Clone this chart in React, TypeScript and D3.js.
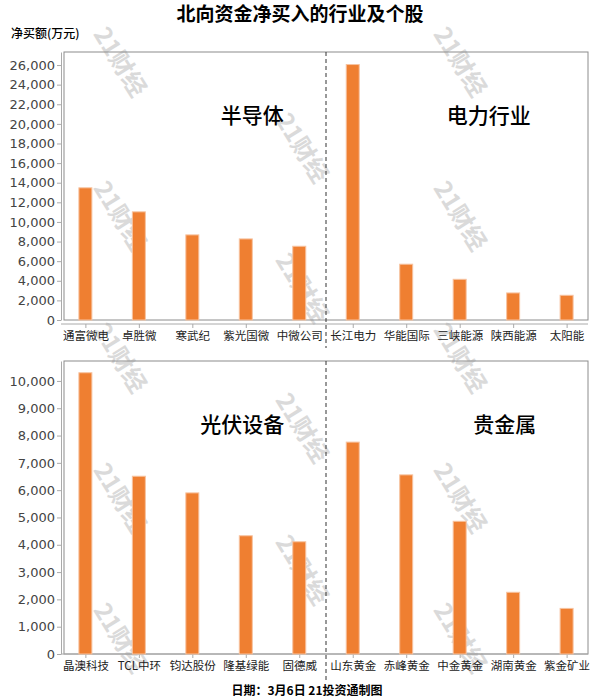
import * as d3 from "d3";
import React, { useRef, useEffect } from "react";

// top panel: semiconductors + power
const topNames = ["通富微电", "卓胜微", "寒武纪", "紫光国微", "中微公司", "长江电力", "华能国际", "三峡能源", "陕西能源", "太阳能"];
const topValues = [13480, 11030, 8680, 8270, 7520, 26050, 5690, 4150, 2760, 2520];
const topTicks = [0, 2000, 4000, 6000, 8000, 10000, 12000, 14000, 16000, 18000, 20000, 22000, 24000, 26000];
const topSectors = ["半导体", "电力行业"];

// bottom panel: PV equipment + precious metals
const bottomNames = ["晶澳科技", "TCL中环", "钧达股份", "隆基绿能", "固德威", "山东黄金", "赤峰黄金", "中金黄金", "湖南黄金", "紫金矿业"];
const bottomValues = [10300, 6510, 5900, 4330, 4110, 7760, 6560, 4860, 2260, 1670];
const bottomTicks = [0, 1000, 2000, 3000, 4000, 5000, 6000, 7000, 8000, 9000, 10000];
const bottomSectors = ["光伏设备", "贵金属"];

const W = 600;
const H = 700;
const cjk = "'Noto Sans CJK SC', 'Noto Sans', sans-serif";
const barColor = "#ef7f31";

export default function App() {
  const ref = useRef(null);

  useEffect(() => {
    document.body.style.margin = "0";
    const svg = d3.select(ref.current);
    svg.selectAll("*").remove();

    svg.append("rect").attr("width", W).attr("height", H).attr("fill", "#fff");

    // watermarks behind everything
    const marks: [number, number][] = [];
    [120, 460].forEach((x) => [62, 216, 358, 498, 638].forEach((y) => marks.push([x, y])));
    [148, 288, 428, 570].forEach((y) => marks.push([302, y]));
    svg
      .append("g")
      .selectAll("text")
      .data(marks)
      .join("text")
      .attr("transform", (d) => `translate(${d[0]},${d[1]}) rotate(58)`)
      .attr("text-anchor", "middle")
      .attr("dy", "0.35em")
      .style("font-family", cjk)
      .style("font-weight", "bold")
      .style("font-size", "24px")
      .style("fill", "#dadada")
      .text("21财经");

    function panel(names: string[], values: number[], ticks: number[], sectors: string[], shifts: number[], top: number, bottom: number, maxY: number, axisGap: number, sectorY: number) {
      const left = 64;
      const right = 588;
      const g = svg.append("g");

      const x = d3.scalePoint().domain(names).range([left, right]).padding(0.4);
      const y = d3.scaleLinear().domain([0, maxY]).range([bottom, top]);

      // frame
      g.append("rect")
        .attr("x", left)
        .attr("y", top)
        .attr("width", right - left)
        .attr("height", bottom - top)
        .attr("fill", "none")
        .attr("stroke", "#8c8c8c")
        .attr("stroke-width", 1);

      // y axis
      const yAxis = g
        .append("g")
        .attr("transform", `translate(${left - 3},0)`)
        .call(d3.axisLeft(y).tickValues(ticks).tickSize(4).tickSizeOuter(0).tickPadding(2).tickFormat(d3.format(",")));
      yAxis.select(".domain").attr("stroke", "#aaa");
      yAxis.selectAll(".tick line").attr("stroke", "#aaa");
      yAxis
        .selectAll("text")
        .style("font-family", "'DejaVu Sans', sans-serif")
        .style("font-size", "13px")
        .style("fill", "#444");

      // x axis
      const xAxis = g
        .append("g")
        .attr("transform", `translate(0,${bottom + axisGap})`)
        .call(d3.axisBottom(x).tickSize(4).tickSizeOuter(0).tickPadding(4));
      xAxis.select(".domain").attr("stroke", "#aaa").attr("d", `M${left - 3},0H${right}`);
      xAxis.selectAll(".tick line").attr("stroke", "#aaa");
      xAxis
        .selectAll("text")
        .style("font-family", cjk)
        .style("font-size", "11.5px")
        .style("fill", "#222");

      // dashed separator
      const mid = ((x(names[4]) as number) + (x(names[5]) as number)) / 2;
      g.append("line")
        .attr("x1", mid)
        .attr("x2", mid)
        .attr("y1", top)
        .attr("y2", bottom + 28)
        .attr("stroke", "#333")
        .attr("stroke-width", 1)
        .attr("stroke-dasharray", "4,3");

      // bars
      const bw = 13;
      g.append("g")
        .selectAll("rect")
        .data(values)
        .join("rect")
        .attr("x", (d, i) => (x(names[i]) as number) - bw / 2)
        .attr("y", (d) => y(d))
        .attr("width", bw)
        .attr("height", (d) => y(0) - y(d))
        .attr("fill", barColor)
        .attr("stroke", "#f7c3a0")
        .attr("stroke-width", 1);

      // sector titles
      const sx = [
        ((x(names[0]) as number) + (x(names[4]) as number)) / 2 + shifts[0],
        ((x(names[5]) as number) + (x(names[9]) as number)) / 2 + shifts[1],
      ];
      g.append("g")
        .selectAll("text")
        .data(sectors)
        .join("text")
        .attr("x", (d, i) => sx[i])
        .attr("y", sectorY)
        .attr("text-anchor", "middle")
        .style("font-family", cjk)
        .style("font-size", "21px")
        .style("font-weight", 500)
        .style("fill", "#000")
        .text((d) => d);
    }

    panel(topNames, topValues, topTicks, topSectors, [60, 29], 52, 320, 27330, 4, 123);
    panel(bottomNames, bottomValues, bottomTicks, bottomSectors, [50, 45], 361, 654, 10730, 0, 432);

    // title
    svg
      .append("text")
      .attr("x", W / 2)
      .attr("y", 21)
      .attr("text-anchor", "middle")
      .style("font-family", cjk)
      .style("font-size", "19px")
      .style("font-weight", "bold")
      .text("北向资金净买入的行业及个股");

    svg
      .append("text")
      .attr("x", 11)
      .attr("y", 38)
      .style("font-family", cjk)
      .style("font-size", "12px")
      .style("font-weight", 500)
      .text("净买额(万元)");

    svg
      .append("text")
      .attr("x", 307)
      .attr("y", 695)
      .attr("text-anchor", "middle")
      .style("font-family", cjk)
      .style("font-size", "12px")
      .style("font-weight", 600)
      .text("日期：3月6日 21投资通制图");
  }, []);

  return <svg ref={ref} width={W} height={H} viewBox={`0 0 ${W} ${H}`} style={{ display: "block" }} />;
}
